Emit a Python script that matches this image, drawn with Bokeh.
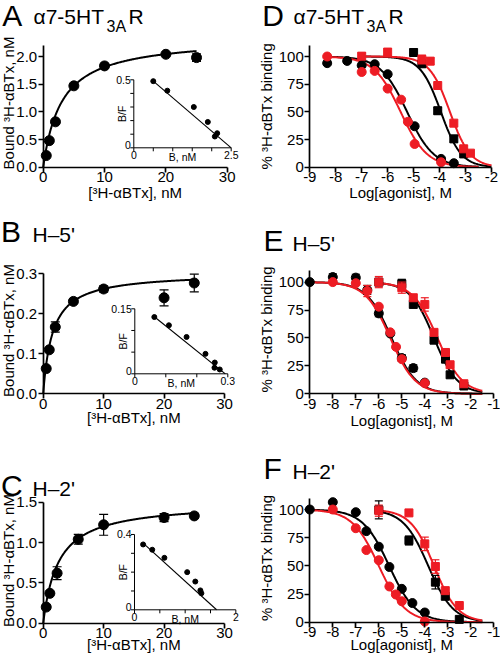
import numpy as np
from bokeh.plotting import figure
from bokeh.models import Range1d, FixedTicker, Label, NumeralTickFormatter
from bokeh.layouts import column, row
from bokeh.embed import file_html
from bokeh.resources import INLINE

FONT = "Liberation Sans"
RED = "#ed1c24"

# ---------------- data: saturation binding (A-C) ----------------
conc_a = [0.5, 1.0, 2.0, 5.0, 10.0, 20.0, 25.0]
bound_a = [0.21, 0.48, 0.82, 1.47, 1.83, 2.04, 1.98]
err_a = [0, 0, 0, 0, 0.03, 0, 0.07]
fit_a = (2.35, 3.0)                      # Bmax, Kd
scb_a = [0.5, 0.86, 1.54, 1.90, 2.14, 2.08]
scbf_a = [0.49, 0.42, 0.30, 0.19, 0.107, 0.083]
scfit_a = (0.5, 2.5, 0.6125, -0.245)     # x from, x to, intercept, slope

conc_b = [0.5, 1.0, 2.0, 5.0, 10.0, 20.0, 25.0]
bound_b = [0.063, 0.11, 0.167, 0.231, 0.262, 0.24, 0.277]
err_b = [0, 0, 0.013, 0, 0.008, 0.02, 0.022]
fit_b = (0.303, 1.55)
scb_b = [0.063, 0.11, 0.167, 0.228, 0.258, 0.257, 0.274]
scbf_b = [0.131, 0.112, 0.085, 0.046, 0.026, 0.014, 0.010]
scfit_b = (0.063, 0.292, 0.168, -0.576)

conc_c = [0.5, 1.1, 2.3, 5.8, 10.0, 20.0, 25.0]
bound_c = [0.20, 0.37, 0.62, 1.04, 1.22, 1.31, 1.33]
err_c = [0, 0, 0.08, 0.06, 0.13, 0.05, 0]
fit_c = (1.5, 2.5)
scb_c = [0.17, 0.35, 0.59, 1.04, 1.20, 1.30, 1.32]
scbf_c = [0.347, 0.319, 0.276, 0.20, 0.15, 0.103, 0.088]
scfit_c = (0.17, 1.62, 0.3955, -0.244)

# ---------------- data: competition binding (D-F) ----------------
# series: black circles, red circles, black squares, red squares
d_bc_x = [-8.33, -7.56, -7.0, -6.5, -6.0, -4.96, -3.94, -3.45]
d_bc_y = [94, 96, 92, 93, 84, 37, 7.5, 3.6]
d_rc_x = [-8.33, -7.0, -6.5, -6.0, -5.48, -5.22, -4.96, -3.94]
d_rc_y = [100, 86, 87, 71, 61, 41, 21, 4.5]
d_bs_x = [-5.0, -4.68, -4.07, -3.45, -3.07]
d_bs_y = [103.6, 93.4, 51, 25.6, 12]
d_bs_e = [3, 3, 3, 3, 0]
d_rs_x = [-7.0, -6.0, -4.68, -4.36, -4.07, -3.45, -3.07, -2.81]
d_rs_y = [100.3, 104, 97.3, 95.8, 73.8, 39.8, 16.6, 12.7]
d_rs_e = [3, 3, 4, 3, 0, 0, 0, 0]
d_fit = {"bc": (-5.25, 0.85, -8.33, -2.5), "rc": (-5.5, 0.85, -8.33, -2.5),
         "bs": (-3.95, 1.1, -7.0, -2.0), "rs": (-3.6, 1.1, -7.0, -2.0)}

e_bc_x = [-9, -8, -7, -6.5, -6, -5.5, -5, -4.5, -4]
e_bc_y = [100, 104.5, 104, 93, 72, 54, 32, 23, 10]
e_bc_e = [0, 3, 3, 4, 3, 0, 3, 3, 0]
e_rc_x = [-8, -7, -6.5, -6, -5.5, -5.25, -5, -4]
e_rc_y = [100, 99, 92, 78, 55, 42, 31, 9.5]
e_rc_e = [0, 0, 5, 0, 0, 0, 0, 0]
e_bs_x = [-6, -5, -4.5, -3.6, -3.1, -2.9, -2.3]
e_bs_y = [100, 98.5, 80, 48, 31, 17, 7]
e_bs_e = [0, 4, 0, 0, 0, 0, 0]
e_rs_x = [-6, -5, -4.5, -4, -3.6, -3.1, -2.9, -2.3]
e_rs_y = [100, 95, 86, 80, 55, 37, 26, 9]
e_rs_e = [5, 5, 0, 6, 0, 0, 0, 0]
e_fit = {"bc": (-5.45, 0.8, -9.0, -1.5), "rc": (-5.5, 0.8, -9.0, -1.5),
         "bs": (-3.6, 0.85, -6.0, -1.5), "rs": (-3.45, 0.8, -6.0, -1.5)}

f_bc_x = [-9, -8, -7, -6.54, -6, -5.54, -5, -4.54, -4]
f_bc_y = [100, 106.5, 97.6, 80.8, 67, 49, 29.6, 17, 8.6]
f_rc_x = [-8, -7, -6.54, -6, -5.54, -5.26, -5, -4]
f_rc_y = [100, 83.4, 64, 55, 31.7, 24.6, 18.6, 0.6]
f_bs_x = [-6, -4.69, -3.54, -3.11, -2.5]
f_bs_y = [99.7, 72.5, 35.5, 23, 2.5]
f_bs_e = [8, 4, 6, 0, 0]
f_rs_x = [-6, -4.69, -4, -3.54, -3.11, -2.5]
f_rs_y = [99, 97, 69.5, 49.4, 28, 14.8]
f_rs_e = [5, 0, 6, 6, 0, 0]
f_fit = {"bc": (-5.55, 0.75, -9.0, -1.5), "rc": (-6.0, 0.75, -9.0, -1.5),
         "bs": (-3.85, 0.8, -6.0, -1.5), "rs": (-3.6, 0.85, -6.0, -1.5)}

sat_xticks = [0, 10, 20, 30]
comp_yticks = [0, 25, 50, 75, 100]


# ---------------- helpers ----------------
def make_panel(W, H, ox, oy, sx, sy, x0v, y0v):
    # frame covers the whole figure; axes are placed at fixed data locations
    xr = Range1d(x0v + (0 - ox) / sx, x0v + (W - ox) / sx)
    yr = Range1d(y0v + (oy - H) / sy, y0v + (oy - 0) / sy)
    p = figure(width=W, height=H, x_range=xr, y_range=yr, title=None,
               output_backend="svg", toolbar_location=None, tools="",
               min_border=0, min_border_left=0, min_border_right=0,
               min_border_top=0, min_border_bottom=0)
    p.outline_line_color = None
    p.xgrid.visible = False
    p.ygrid.visible = False
    p.background_fill_color = "white"
    p.border_fill_color = "white"

    def conv(fx, fy):
        return x0v + (fx - ox) / sx, y0v + (oy - fy) / sy
    return p, conv


def style_axes(p, xticks, yticks, xb, yb, x0v, y0v, xfmt, yfmt):
    xa, ya = p.xaxis[0], p.yaxis[0]
    xa.ticker = FixedTicker(ticks=xticks, minor_ticks=[])
    ya.ticker = FixedTicker(ticks=yticks, minor_ticks=[])
    xa.bounds = xb
    ya.bounds = yb
    xa.fixed_location = y0v
    ya.fixed_location = x0v
    xa.formatter = NumeralTickFormatter(format=xfmt)
    ya.formatter = NumeralTickFormatter(format=yfmt)
    for ax in (xa, ya):
        ax.axis_line_width = 1.7
        ax.axis_line_color = "black"
        ax.major_tick_line_width = 1.7
        ax.major_tick_line_color = "black"
        ax.major_tick_out = 5
        ax.major_tick_in = 0
        ax.minor_tick_out = 0
        ax.minor_tick_in = 0
        ax.major_label_text_font = FONT
        ax.major_label_text_font_size = "15px"
        ax.major_label_text_color = "black"
    xa.major_label_standoff = 0
    ya.major_label_standoff = 1


def txt(p, conv, fx, fy, s, size, align="left", baseline="middle", angle=0.0):
    x, y = conv(fx, fy)
    p.add_layout(Label(x=x, y=y, text=s, text_font=FONT, text_font_size=size,
                       text_align=align, text_baseline=baseline, angle=angle,
                       text_color="black"))


def errbars(p, xs, ys, es, color, cap, **kw):
    xe = [x for x, e in zip(xs, es) if e > 0]
    lo = [y - e for y, e in zip(ys, es) if e > 0]
    hi = [y + e for y, e in zip(ys, es) if e > 0]
    if not xe:
        return
    p.segment(x0=xe, y0=lo, x1=xe, y1=hi, line_color=color, line_width=1.2, **kw)
    p.segment(x0=[x - cap for x in xe], y0=lo, x1=[x + cap for x in xe], y1=lo,
              line_color=color, line_width=1.2, **kw)
    p.segment(x0=[x - cap for x in xe], y0=hi, x1=[x + cap for x in xe], y1=hi,
              line_color=color, line_width=1.2, **kw)


def title(p, conv, letter, lx, ly, tx, ty, sub=None):
    # ly / ty are the text baselines; labels are placed by their middle
    txt(p, conv, lx, ly - 0.35 * 30, letter, "30px")
    if sub is None:
        return
    main, subs, tail = sub
    txt(p, conv, tx, ty - 0.35 * 21, main, "21px")
    if subs:
        txt(p, conv, tx + 73, ty + 8.5 - 0.35 * 16, subs, "16px")
        txt(p, conv, tx + 95, ty - 0.35 * 21, tail, "21px")


def sat_panel(W, H, org, scl, yticks, ybound, yfmt, conc, bound, err, fit,
              inset, scb, scbf, scfit, ttl, ylab_pos, xlab_y):
    ox, oy = org
    sx, sy = scl
    p, conv = make_panel(W, H, ox, oy, sx, sy, 0.0, 0.0)
    style_axes(p, sat_xticks, yticks, (0, 30), ybound, 0.0, 0.0, "0", yfmt)
    # inset (Scatchard)
    (iox, ioy), (isx, isy), xmax, ymax, ixt, iyt, ixl, iyl = inset
    p.extra_x_ranges = {"ix": Range1d((0 - iox) / isx, (W - iox) / isx)}
    p.extra_y_ranges = {"iy": Range1d((ioy - H) / isy, (ioy - 0) / isy)}
    kw = dict(x_range_name="ix", y_range_name="iy")
    p.segment(x0=[0, 0], y0=[0, 0], x1=[xmax, 0], y1=[0, ymax],
              line_color="black", line_width=1, **kw)
    p.segment(x0=ixt, y0=[0] * len(ixt), x1=ixt, y1=[-3.5 / isy] * len(ixt),
              line_color="black", line_width=1, **kw)
    p.segment(x0=[0] * len(iyt), y0=iyt, x1=[-3.5 / isx] * len(iyt), y1=iyt,
              line_color="black", line_width=1, **kw)
    x_a, x_b, icpt, slope = scfit
    p.line([x_a, x_b], [icpt + slope * x_a, icpt + slope * x_b],
           line_color="black", line_width=1.1, **kw)
    p.scatter(scb, scbf, size=5, color="black", **kw)
    for v, s in zip([0, xmax], ixl):
        txt(p, conv, iox + v * isx, ioy + 3, s, "10.5px", "center", "top")
    txt(p, conv, iox - 3, ioy + 1, iyl[0], "10.5px", "right", "bottom")
    txt(p, conv, iox - 3, ioy - ymax * isy, iyl[1], "10.5px", "right", "middle")
    txt(p, conv, iox + xmax * isx / 2, ioy + 3, "B, nM", "10.5px", "center", "top")
    txt(p, conv, iox - 12, ioy - ymax * isy / 2, "B/F", "10.5px", "center", "middle", np.pi / 2)
    # main data
    bmax, kd = fit
    xs = np.linspace(0, 25, 200)
    p.line(xs, bmax * xs / (kd + xs), line_color="black", line_width=2)
    errbars(p, conc, bound, err, "black", 4.5 / sx)
    p.scatter(conc, bound, size=10, color="black")
    # labels
    title(p, conv, *ttl)
    txt(p, conv, ylab_pos[0], ylab_pos[1], "Bound \u00b3H-\u03b1BTx, nM", "15px",
        "center", "middle", np.pi / 2)
    txt(p, conv, ox + 15 * sx, xlab_y, "[\u00b3H-\u03b1BTx], nM", "15px", "center", "middle")
    return p


def comp_panel(W, H, org, scl, xmax, series, fits, ttl, ylab_pos, xlab_y):
    ox, oy = org
    sx, sy = scl
    p, conv = make_panel(W, H, ox, oy, sx, sy, -9.0, 0.0)
    style_axes(p, list(range(-9, xmax + 1)), comp_yticks, (-9, xmax), (0, 110), -9.0, 0.0, "0", "0")
    order = ["bc", "bs", "rc", "rs"]
    for key in order:
        c, n, x1, x2 = fits[key]
        col = RED if key[0] == "r" else "black"
        xs = np.linspace(x1, x2, 200)
        p.line(xs, 100.0 / (1 + 10 ** (n * (xs - c))), line_color=col, line_width=2)
    for key in order:
        xs, ys, es = series[key]
        col = RED if key[0] == "r" else "black"
        errbars(p, xs, ys, es, col, 4 / sx)
        if key[1] == "c":
            p.scatter(xs, ys, size=9, color=col, marker="circle")
        else:
            p.scatter(xs, ys, size=8, color=col, marker="square")
    title(p, conv, *ttl)
    txt(p, conv, ylab_pos[0], ylab_pos[1], "% \u00b3H-\u03b1BTx binding", "15px",
        "center", "middle", np.pi / 2)
    txt(p, conv, ox + (xmax + 9) / 2 * sx, xlab_y, "Log[agonist], M", "15px", "center", "middle")
    return p


def zeros(n):
    return [0] * n


WL, WR = 250, 250
H1, H2, H3 = 210, 220, 226

pA = sat_panel(WL, H1, (42.7, 166.7), (6.133, 55.35),
               [0, 0.5, 1.0, 1.5, 2.0], (0, 2.2), "0.0",
               conc_a, bound_a, err_a, fit_a,
               ((133.3, 147.3), (38.96, 136.0), 2.5, 0.5,
                [0, 0.5, 1.0, 1.5, 2.0, 2.5], [0, 0.1, 0.2, 0.3, 0.4, 0.5], ["0", "2.5"], ["0", "0.5"]),
               scb_a, scbf_a, scfit_a,
               ("A", 1.7, 25, 33, 23.3, ("\u03b17-5HT", "3A", "R")), (8.3, 102.5), 191.7)

pB = sat_panel(WL, H2, (42.7, 183.3), (6.043, 400.0),
               [0, 0.1, 0.2, 0.3], (0, 0.3), "0.0",
               conc_b, bound_b, err_b, fit_b,
               ((134.3, 163.3), (310.0, 433.3), 0.3, 0.15,
                [0, 0.1, 0.2, 0.3], [0, 0.05, 0.1, 0.15], ["0", "0.3"], ["0", "0.15"]),
               scb_b, scbf_b, scfit_b,
               ("B", 0.5, 31.7, 32, 31.7, ("H\u20135'", None, None)), (8.3, 120), 206.7)

pC = sat_panel(WL, H3, (42.7, 192.7), (6.043, 80.67),
               [0, 0.5, 1.0, 1.5], (0, 1.5), "0.0",
               conc_c, bound_c, err_c, fit_c,
               ((134.0, 179.3), (50.67, 188.3), 2.0, 0.4,
                [0, 0.5, 1.0, 1.5, 2.0], [0, 0.1, 0.2, 0.3, 0.4], ["0", "2"], ["0", "0.4"]),
               scb_c, scbf_c, scfit_c,
               ("C", 0.5, 65, 32, 65, ("H\u20132'", None, None)), (8.3, 130), 213.7)

pD = comp_panel(WR, H1, (59.3, 166.7), (25.95, 1.107), -2,
                {"bc": (d_bc_x, d_bc_y, zeros(len(d_bc_x))), "rc": (d_rc_x, d_rc_y, zeros(len(d_rc_x))),
                 "bs": (d_bs_x, d_bs_y, d_bs_e), "rs": (d_rs_x, d_rs_y, d_rs_e)},
                d_fit, ("D", 11.7, 25, 43, 23.3, ("\u03b17-5HT", "3A", "R")), (15.5, 105.8), 191.7)

pE = comp_panel(WR, H2, (59.3, 183.3), (23.0, 1.117), -1,
                {"bc": (e_bc_x, e_bc_y, e_bc_e), "rc": (e_rc_x, e_rc_y, e_rc_e),
                 "bs": (e_bs_x, e_bs_y, e_bs_e), "rs": (e_rs_x, e_rs_y, e_rs_e)},
                e_fit, ("E", 13, 40, 42, 40, ("H\u20135'", None, None)), (15.5, 119), 210)

pF = comp_panel(WR, H3, (59.3, 191.7), (23.0, 1.127), -1,
                {"bc": (f_bc_x, f_bc_y, zeros(len(f_bc_x))), "rc": (f_rc_x, f_rc_y, zeros(len(f_rc_x))),
                 "bs": (f_bs_x, f_bs_y, f_bs_e), "rs": (f_rs_x, f_rs_y, f_rs_e)},
                f_fit, ("F", 13, 48, 42, 48, ("H\u20132'", None, None)), (15.5, 127.5), 213.5)

layout = column(row(pA, pD), row(pB, pE), row(pC, pF))
open("out.html", "w").write(file_html(layout, INLINE))
